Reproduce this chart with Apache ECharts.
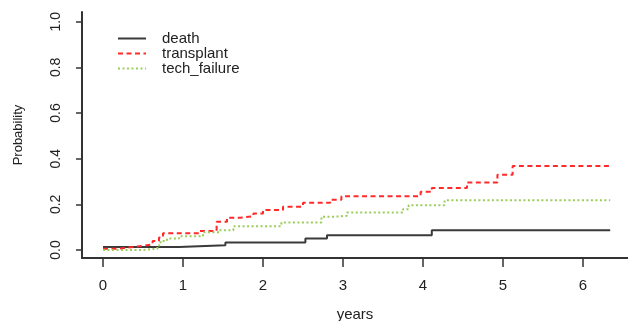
<!DOCTYPE html>
<html>
<head>
<meta charset="utf-8">
<script src="https://cdn.jsdelivr.net/npm/echarts@6/dist/echarts.min.js"></script>
<style>
  html, body { margin: 0; padding: 0; background: #fff; }
  #chart { width: 628px; height: 321px; }
</style>
</head>
<body>
<div id="chart"></div>
<script>
// cumulative incidence (step functions)
var deathT = [0, 0.95, 1.53, 2.53, 2.8, 4.11, 6.34];
var deathP = [0.013, 0.021, 0.033, 0.05, 0.065, 0.086, 0.086];

var transplantT = [0, 0.15, 0.3, 0.5, 0.62, 0.7, 0.75, 1.2, 1.42, 1.55, 1.71, 1.88, 2.0, 2.25, 2.5, 2.84, 2.98, 3.97, 4.11, 4.55, 4.93, 5.12, 6.34];
var transplantP = [0.005, 0.01, 0.018, 0.025, 0.04, 0.055, 0.073, 0.083, 0.124, 0.141, 0.148, 0.16, 0.175, 0.19, 0.207, 0.22, 0.236, 0.255, 0.272, 0.296, 0.33, 0.368, 0.368];

var techT = [0, 0.5, 0.68, 0.72, 0.8, 0.95, 1.25, 1.45, 1.63, 2.23, 2.73, 2.9, 3.05, 3.75, 3.82, 4.27, 6.34];
var techP = [0, 0.006, 0.02, 0.04, 0.05, 0.06, 0.078, 0.087, 0.104, 0.12, 0.146, 0.15, 0.164, 0.178, 0.196, 0.218, 0.218];

var xTicks = [0, 1, 2, 3, 4, 5, 6];
var yTicks = [0, 0.2, 0.4, 0.6, 0.8, 1.0];
var seriesNames = ['death', 'transplant', 'tech_failure'];

function pairs(t, p) {
  var out = [];
  for (var i = 0; i < t.length; i++) out.push([t[i], p[i]]);
  return out;
}

var chart = echarts.init(document.getElementById('chart'));
var font = 'Liberation Sans, Arial, sans-serif';
var axisCol = '#333';

var option = {
  backgroundColor: '#fff',
  animation: false,
  grid: { left: 82, top: 12, right: 0, bottom: 63, containLabel: false, outerBoundsMode: 'none' },
  legend: {
    orient: 'vertical',
    left: 112,
    top: 26,
    itemWidth: 28,
    itemHeight: 14,
    itemGap: 0,
    itemStyle: { opacity: 0 },
    textStyle: { fontFamily: font, fontSize: 15, color: '#222', lineHeight: 15, padding: [0, 0, 0, 11] },
    data: seriesNames
  },
  xAxis: {
    type: 'value',
    min: -0.2625,
    max: 6.5625,
    name: 'years',
    nameLocation: 'middle',
    nameGap: 49,
    nameTextStyle: { fontFamily: font, fontSize: 15, color: '#222' },
    axisLine: { show: true, onZero: false, lineStyle: { color: axisCol, width: 2 } },
    axisTick: { show: true, length: 9, lineStyle: { color: axisCol, width: 1.5 }, customValues: xTicks },
    axisLabel: { fontFamily: font, fontSize: 15, color: '#222', margin: 20, customValues: xTicks },
    splitLine: { show: false }
  },
  yAxis: {
    type: 'value',
    min: -0.035,
    max: 1.0425,
    name: 'Probability',
    nameLocation: 'middle',
    nameGap: 57,
    nameTextStyle: { fontFamily: font, fontSize: 13, color: '#222' },
    axisLine: { show: true, onZero: false, lineStyle: { color: axisCol, width: 2 } },
    axisTick: { show: true, length: 6, lineStyle: { color: axisCol, width: 1.5 }, customValues: yTicks },
    axisLabel: {
      fontFamily: font, fontSize: 14, color: '#222', margin: 19, rotate: 90,
      customValues: yTicks,
      formatter: function (v) { return v.toFixed(1); }
    },
    splitLine: { show: false }
  },
  series: [
    {
      name: 'death', type: 'line', step: 'end', symbol: 'none',
      color: '#3a3a3a',
      lineStyle: { color: '#3a3a3a', width: 2, type: 'solid' },
      data: pairs(deathT, deathP)
    },
    {
      name: 'transplant', type: 'line', step: 'end', symbol: 'none',
      color: '#ff2a2a',
      lineStyle: { color: '#ff2a2a', width: 2, type: [5, 3.5] },
      data: pairs(transplantT, transplantP)
    },
    {
      name: 'tech_failure', type: 'line', step: 'end', symbol: 'none',
      color: '#9acd5a',
      lineStyle: { color: '#9acd5a', width: 2, type: [2, 2.5] },
      data: pairs(techT, techP)
    }
  ]
};
chart.setOption(option);
</script>
</body>
</html>
